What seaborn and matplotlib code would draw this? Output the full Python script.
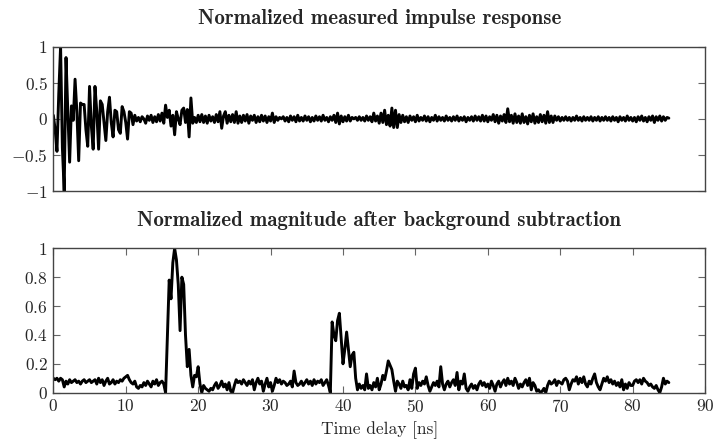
import numpy as np
import matplotlib
matplotlib.use("Agg")
import matplotlib.pyplot as plt
import seaborn as sns

# ---------------- data ----------------
sample_interval_ns = 0.25

impulse_response = [
    0.05, -0.15, -0.45, 0.35, 1.0, -0.4, -1.0, 0.85, 0.1, -0.6, 0.18, -0.02, 0.55, 0.1, -0.58, 0.22, 0.2, 0.2, -0.15, -0.38,
    0.45, -0.1, -0.42, 0.45, 0.1, -0.42, 0.25, 0.2, -0.05, -0.3, 0.1, 0.3, -0.05, -0.25, 0.12, 0.1, -0.15, -0.2, 0.17, 0.1,
    -0.05, -0.28, 0.1, 0.08, -0.08, 0.05, -0.03, 0.02, -0.04, 0.03, 0.0, -0.06, 0.04, -0.02, 0.05, -0.05, 0.03, -0.04, 0.06, -0.03,
    0.08, -0.06, 0.19, 0.02, 0.12, -0.1, 0.05, -0.22, 0.1, 0.0, -0.08, 0.12, 0.15, -0.05, 0.13, -0.25, 0.29, -0.06, 0.02, -0.05,
    0.05, -0.04, 0.06, -0.05, 0.04, -0.06, 0.05, -0.03, 0.03, -0.05, 0.06, -0.04, 0.1, -0.13, 0.04, 0.1, -0.06, 0.05, -0.04, 0.06,
    -0.05, 0.1, -0.06, 0.04, -0.05, 0.05, -0.03, 0.06, -0.06, 0.04, -0.02, 0.05, -0.05, 0.03, -0.04, 0.05, -0.03, 0.04, -0.05, 0.03,
    -0.03, 0.08, -0.05, 0.03, -0.02, 0.02, 0.0, 0.03, -0.03, 0.02, -0.04, 0.04, -0.02, 0.03, -0.04, 0.05, -0.03, 0.02, -0.03, 0.04,
    -0.02, 0.03, -0.04, 0.02, -0.03, 0.04, -0.02, 0.03, -0.03, 0.05, -0.02, 0.02, -0.04, 0.03, -0.02, 0.05, -0.05, 0.08, -0.07, 0.04,
    -0.04, 0.03, -0.03, 0.05, -0.03, 0.02, 0.0, 0.02, -0.02, 0.03, -0.02, 0.02, -0.03, 0.04, -0.02, 0.03, -0.04, 0.08, -0.03, 0.04,
    -0.06, 0.08, -0.05, 0.12, -0.08, 0.05, -0.1, 0.15, -0.12, 0.12, -0.12, 0.06, -0.05, 0.05, -0.04, 0.03, -0.05, 0.04, -0.02, 0.03,
    -0.04, 0.05, -0.03, 0.02, -0.02, 0.04, -0.03, 0.03, -0.04, 0.02, -0.02, 0.05, -0.03, 0.03, -0.02, 0.02, -0.03, 0.04, -0.02, 0.02,
    -0.03, 0.03, -0.02, 0.04, -0.03, 0.02, -0.02, 0.03, -0.04, 0.02, -0.02, 0.03, -0.03, 0.04, -0.02, 0.03, -0.03, 0.05, -0.03, 0.04,
    -0.04, 0.03, -0.02, 0.06, -0.04, 0.05, -0.06, 0.04, -0.03, 0.06, -0.05, 0.14, -0.04, 0.05, -0.06, 0.07, -0.05, 0.04, -0.06, 0.07,
    -0.05, 0.03, -0.07, 0.05, -0.04, 0.07, -0.06, 0.03, -0.05, 0.06, -0.04, 0.05, -0.06, 0.1, -0.05, 0.04, -0.05, 0.04, -0.02, 0.03,
    -0.03, 0.02, -0.02, 0.03, -0.02, 0.02, -0.03, 0.02, -0.02, 0.04, -0.02, 0.02, -0.03, 0.03, -0.02, 0.02, -0.02, 0.03, -0.03, 0.02,
    -0.02, 0.03, -0.03, 0.02, -0.02, 0.03, -0.02, 0.02, -0.03, 0.03, -0.02, 0.02, -0.04, 0.03, -0.02, 0.02, -0.03, 0.04, -0.02, 0.02,
    -0.03, 0.02, -0.04, 0.03, -0.02, 0.04, -0.03, 0.02, -0.04, 0.03, -0.02, 0.04, -0.05, 0.03, -0.02, 0.04, -0.03, 0.03, -0.02, 0.02,
    0.01,
]

magnitude = [
    0.1, 0.09, 0.1, 0.08, 0.1, 0.09, 0.04, 0.08, 0.06, 0.09, 0.07, 0.08, 0.09, 0.07, 0.08, 0.06, 0.08, 0.09, 0.07, 0.08,
    0.09, 0.07, 0.08, 0.09, 0.06, 0.1, 0.07, 0.09, 0.05, 0.08, 0.1, 0.06, 0.07, 0.09, 0.06, 0.08, 0.07, 0.09, 0.08, 0.1,
    0.11, 0.12, 0.09, 0.07, 0.06, 0.08, 0.04, 0.03, 0.05, 0.04, 0.07, 0.05, 0.08, 0.06, 0.04, 0.08, 0.06, 0.09, 0.05, 0.07,
    0.08, 0.06, 0.0, 0.4, 0.78, 0.65, 0.9, 1.0, 0.92, 0.75, 0.43, 0.8, 0.75, 0.4, 0.18, 0.3, 0.12, 0.04, 0.12, 0.11,
    0.18, 0.06, 0.0, 0.05, 0.03, 0.02, 0.01, 0.03, 0.02, 0.05, 0.07, 0.03, 0.05, 0.08, 0.04, 0.06, 0.02, 0.07, 0.01, 0.0,
    0.05, 0.09, 0.07, 0.08, 0.06, 0.09, 0.07, 0.05, 0.08, 0.06, 0.09, 0.02, 0.07, 0.1, 0.06, 0.08, 0.01, 0.06, 0.1, 0.04,
    0.07, 0.01, 0.05, 0.1, 0.07, 0.09, 0.06, 0.08, 0.07, 0.05, 0.06, 0.08, 0.04, 0.15, 0.07, 0.05, 0.06, 0.08, 0.05, 0.07,
    0.09, 0.06, 0.08, 0.05, 0.09, 0.06, 0.08, 0.07, 0.09, 0.05, 0.07, 0.09, 0.05, 0.0, 0.49, 0.4, 0.36, 0.5, 0.55, 0.38,
    0.2, 0.3, 0.42, 0.3, 0.18, 0.26, 0.28, 0.1, 0.02, 0.06, 0.03, 0.05, 0.02, 0.13, 0.03, 0.05, 0.02, 0.07, 0.04, 0.1,
    0.02, 0.06, 0.12, 0.09, 0.15, 0.22, 0.19, 0.16, 0.08, 0.01, 0.08, 0.06, 0.03, 0.08, 0.04, 0.05, 0.02, 0.09, 0.03, 0.13,
    0.17, 0.03, 0.07, 0.05, 0.08, 0.06, 0.11, 0.05, 0.01, 0.04, 0.07, 0.05, 0.08, 0.04, 0.18, 0.06, 0.02, 0.06, 0.08, 0.04,
    0.07, 0.09, 0.05, 0.14, 0.02, 0.08, 0.06, 0.13, 0.03, 0.01, 0.04, 0.06, 0.03, 0.05, 0.02, 0.06, 0.08, 0.05, 0.07, 0.04,
    0.06, 0.03, 0.08, 0.05, 0.01, 0.06, 0.08, 0.04, 0.07, 0.09, 0.05, 0.1, 0.06, 0.08, 0.05, 0.1, 0.07, 0.03, 0.06, 0.04,
    0.07, 0.09, 0.05, 0.1, 0.02, 0.07, 0.05, 0.01, 0.02, 0.0, 0.01, 0.03, 0.0, 0.05, 0.08, 0.06, 0.07, 0.09, 0.05, 0.08,
    0.07, 0.06, 0.09, 0.1, 0.08, 0.02, 0.06, 0.09, 0.08, 0.11, 0.06, 0.1, 0.07, 0.11, 0.06, 0.04, 0.08, 0.06, 0.1, 0.13,
    0.07, 0.04, 0.02, 0.06, 0.1, 0.08, 0.11, 0.07, 0.09, 0.06, 0.08, 0.05, 0.07, 0.04, 0.09, 0.02, 0.06, 0.03, 0.07, 0.05,
    0.05, 0.08, 0.09, 0.07, 0.09, 0.06, 0.1, 0.08, 0.07, 0.05, 0.06, 0.04, 0.03, 0.05, 0.02, 0.0, 0.04, 0.1, 0.06, 0.08,
    0.07,
]

top_title = "Normalized measured impulse response"
bottom_title = "Normalized magnitude after background subtraction"
x_label = "Time delay [ns]"

x_ticks = [0, 10, 20, 30, 40, 50, 60, 70, 80, 90]
x_tick_labels = ["0", "10", "20", "30", "40", "50", "60", "70", "80", "90"]
top_y_ticks = [-1, -0.5, 0, 0.5, 1]
top_y_tick_labels = ["−1", "−0.5", "0", "0.5", "1"]
bottom_y_ticks = [0, 0.2, 0.4, 0.6, 0.8, 1]
bottom_y_tick_labels = ["0", "0.2", "0.4", "0.6", "0.8", "1"]

t_top = np.arange(len(impulse_response)) * sample_interval_ns
t_bot = np.arange(len(magnitude)) * sample_interval_ns

# ---------------- style ----------------
sns.set_style("ticks")
plt.rcParams["mathtext.fontset"] = "cm"
plt.rcParams["font.family"] = ["cmr10"]
plt.rcParams["axes.unicode_minus"] = False


def mt(s):
    return "$\\mathrm{" + s.replace("−", "-") + "}$"


fig = plt.figure(figsize=(7.15, 4.46), dpi=100)
ax1 = fig.add_axes([0.0746, 0.5717, 0.9115, 0.3235])
ax2 = fig.add_axes([0.0746, 0.1195, 0.9115, 0.3238])

sns.lineplot(x=t_top, y=impulse_response, ax=ax1, color="black", linewidth=2.1,
             estimator=None, sort=False)
sns.lineplot(x=t_bot, y=magnitude, ax=ax2, color="black", linewidth=2.1,
             estimator=None, sort=False)

label_fs = 12.5
for ax in (ax1, ax2):
    ax.set_xlim(0, 90)
    for sp in ax.spines.values():
        sp.set_visible(True)
        sp.set_color("#444444")
        sp.set_linewidth(1.0)
    ax.tick_params(direction="in", length=5, width=0.8, color="#666666",
                   top=True, right=True, labelsize=label_fs, pad=4)
    ax.set_xlabel("")
    ax.set_ylabel("")

ax1.set_ylim(-1, 1)
ax1.set_xticks([])
ax1.set_yticks(top_y_ticks)
ax1.set_yticklabels([mt(s) for s in top_y_tick_labels], fontsize=label_fs)

ax2.set_ylim(0, 1)
ax2.set_xticks(x_ticks)
ax2.set_xticklabels([mt(s) for s in x_tick_labels], fontsize=label_fs)
ax2.set_yticks(bottom_y_ticks)
ax2.set_yticklabels([mt(s) for s in bottom_y_tick_labels], fontsize=label_fs)

xc = 0.0746 + 0.9115 / 2
fig.text(xc, 1 - 19 / 446, top_title, ha="center", va="center",
         family="cmb10", fontsize=15)
fig.text(xc, 1 - 220 / 446, bottom_title, ha="center", va="center",
         family="cmb10", fontsize=15)
fig.text(xc, 1 - 430 / 446, x_label, ha="center", va="center",
         family="cmr10", fontsize=12.5)

fig.savefig("out.png", dpi=100)
